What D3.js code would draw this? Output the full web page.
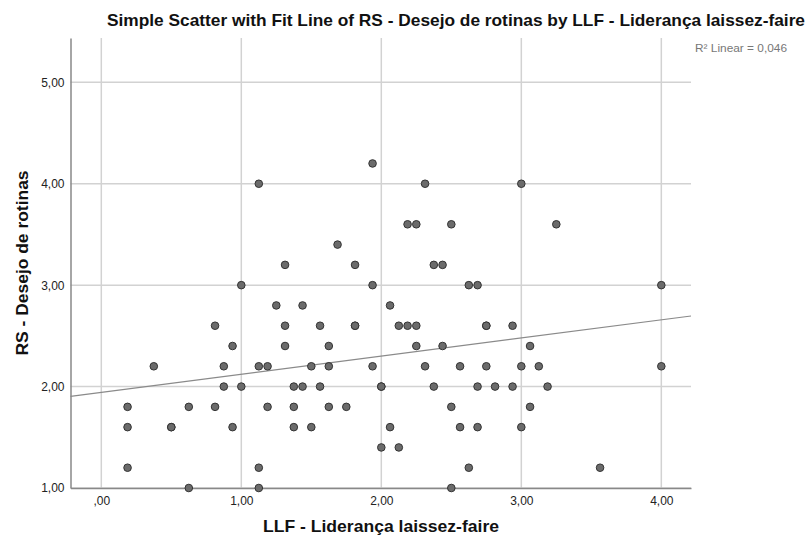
<!DOCTYPE html>
<html>
<head>
<meta charset="utf-8">
<script src="https://cdn.jsdelivr.net/npm/d3@7"></script>
<style>
  body { margin: 0; background: #fff; }
  text { font-family: "Liberation Sans", Arial, sans-serif; }
</style>
</head>
<body>
<div id="wrapper"></div>
<script>
// LLF - Liderança laissez-faire (x) and RS - Desejo de rotinas (y)
const llf = [
  1.125, 1.0, 1.25, 0.8125, 0.9375, 0.375, 0.875, 1.125, 1.1875, 0.875,
  1.0, 0.1875, 0.625, 0.8125, 1.1875, 0.1875, 0.5, 0.5, 0.9375, 0.1875,
  1.125, 0.625, 1.125,
  1.9375, 2.3125, 2.1875, 2.25, 2.5, 1.6875, 1.3125, 1.8125, 2.375, 2.4375,
  1.9375, 2.625, 2.6875, 1.4375, 2.0625, 1.3125, 1.5625, 1.8125, 1.8125,
  2.125, 2.1875, 2.25, 2.75, 2.75, 1.3125, 1.625, 2.25, 2.4375, 1.5, 1.625,
  1.9375, 2.3125, 2.5625, 2.75, 1.375, 1.4375, 1.5625, 2.0, 2.0, 2.375,
  2.6875, 1.375, 1.625, 1.75, 2.5, 1.375, 1.5, 2.0625, 2.5625, 2.6875,
  2.0, 2.125, 2.625, 2.5,
  3.0, 3.25, 4.0, 2.9375, 3.0625, 3.0, 3.125, 4.0, 2.8125, 2.9375, 3.1875,
  3.0625, 3.0, 3.5625
]
const rs = [
  4.0, 3.0, 2.8, 2.6, 2.4, 2.2, 2.2, 2.2, 2.2, 2.0,
  2.0, 1.8, 1.8, 1.8, 1.8, 1.6, 1.6, 1.6, 1.6, 1.2,
  1.2, 1.0, 1.0,
  4.2, 4.0, 3.6, 3.6, 3.6, 3.4, 3.2, 3.2, 3.2, 3.2,
  3.0, 3.0, 3.0, 2.8, 2.8, 2.6, 2.6, 2.6, 2.6,
  2.6, 2.6, 2.6, 2.6, 2.6, 2.4, 2.4, 2.4, 2.4, 2.2, 2.2,
  2.2, 2.2, 2.2, 2.2, 2.0, 2.0, 2.0, 2.0, 2.0, 2.0,
  2.0, 1.8, 1.8, 1.8, 1.8, 1.6, 1.6, 1.6, 1.6, 1.6,
  1.4, 1.4, 1.2, 1.0,
  4.0, 3.6, 3.0, 2.6, 2.4, 2.2, 2.2, 2.2, 2.0, 2.0, 2.0,
  1.8, 1.6, 1.2
]
const xTicks = [0, 1, 2, 3, 4]
const yTicks = [1, 2, 3, 4, 5]
const fitIntercept = 1.942
const fitSlope = 0.179
const rSquared = "0,046"

const data = llf.map((x, i) => ({ x: x, y: rs[i] }))

const dims = {
  width: 810,
  height: 541,
  margin: { top: 38, right: 119, bottom: 53, left: 70.5 }
}
dims.boundedWidth = dims.width - dims.margin.left - dims.margin.right
dims.boundedHeight = dims.height - dims.margin.top - dims.margin.bottom

const svg = d3.select("#wrapper").append("svg")
  .attr("width", dims.width)
  .attr("height", dims.height)

const bounds = svg.append("g")
  .attr("transform", `translate(${dims.margin.left},${dims.margin.top})`)

const xScale = d3.scaleLinear()
  .domain([-0.22, 4.212])
  .range([0, dims.boundedWidth])

const yScale = d3.scaleLinear()
  .domain([1, 5.437])
  .range([dims.boundedHeight, 0])

const fmt = v => d3.format(".2f")(v).replace(".", ",").replace(/^0,/, ",")

// grid
bounds.append("g").selectAll("line")
  .data(xTicks)
  .join("line")
    .attr("x1", d => xScale(d)).attr("x2", d => xScale(d))
    .attr("y1", 0).attr("y2", dims.boundedHeight)
    .attr("stroke", "#d2d2d2").attr("stroke-width", 1.5)

bounds.append("g").selectAll("line")
  .data(yTicks)
  .join("line")
    .attr("x1", 0).attr("x2", dims.boundedWidth)
    .attr("y1", d => yScale(d)).attr("y2", d => yScale(d))
    .attr("stroke", "#d2d2d2").attr("stroke-width", 1.5)

// axes
const xAxis = bounds.append("g")
  .attr("transform", `translate(0,${dims.boundedHeight})`)
  .call(d3.axisBottom(xScale).tickValues(xTicks).tickFormat(fmt).tickSize(0).tickPadding(8))
xAxis.select(".domain").attr("stroke", "#888").attr("stroke-width", 1.5)
xAxis.selectAll("text").attr("font-size", 12).attr("fill", "#222")
  .style("font-family", "'Liberation Sans', Arial, sans-serif")

const yAxis = bounds.append("g")
  .call(d3.axisLeft(yScale).tickValues(yTicks).tickFormat(fmt).tickSize(0).tickPadding(6))
yAxis.select(".domain").attr("stroke", "#888").attr("stroke-width", 1.5)
yAxis.selectAll("text").attr("font-size", 12).attr("fill", "#222")
  .style("font-family", "'Liberation Sans', Arial, sans-serif")

// fit line
const fitX = xScale.domain()
bounds.append("line")
  .attr("x1", xScale(fitX[0])).attr("y1", yScale(fitIntercept + fitSlope * fitX[0]))
  .attr("x2", xScale(fitX[1])).attr("y2", yScale(fitIntercept + fitSlope * fitX[1]))
  .attr("stroke", "#8a8a8a").attr("stroke-width", 1.2)

// points
bounds.append("g").selectAll("circle")
  .data(data)
  .join("circle")
    .attr("cx", d => xScale(d.x))
    .attr("cy", d => yScale(d.y))
    .attr("r", 3.8)
    .attr("fill", "#6b6b6b")
    .attr("stroke", "#333")
    .attr("stroke-width", 1)

// labels
svg.append("text")
  .attr("x", 456).attr("y", 26)
  .attr("text-anchor", "middle")
  .attr("font-size", 16.5).attr("font-weight", "bold").attr("fill", "#111")
  .attr("textLength", 698).attr("lengthAdjust", "spacingAndGlyphs")
  .text("Simple Scatter with Fit Line of RS - Desejo de rotinas by LLF - Liderança laissez-faire")

svg.append("text")
  .attr("x", 695).attr("y", 52)
  .attr("font-size", 11.5).attr("fill", "#777")
  .attr("textLength", 92).attr("lengthAdjust", "spacingAndGlyphs")
  .text(`R² Linear = ${rSquared}`)

svg.append("text")
  .attr("x", 381).attr("y", 532)
  .attr("text-anchor", "middle")
  .attr("font-size", 17).attr("font-weight", "bold").attr("fill", "#111")
  .attr("textLength", 236).attr("lengthAdjust", "spacingAndGlyphs")
  .text("LLF - Liderança laissez-faire")

svg.append("text")
  .attr("transform", "translate(28,263) rotate(-90)")
  .attr("text-anchor", "middle")
  .attr("font-size", 17).attr("font-weight", "bold").attr("fill", "#111")
  .attr("textLength", 185).attr("lengthAdjust", "spacingAndGlyphs")
  .text("RS - Desejo de rotinas")
</script>
</body>
</html>
